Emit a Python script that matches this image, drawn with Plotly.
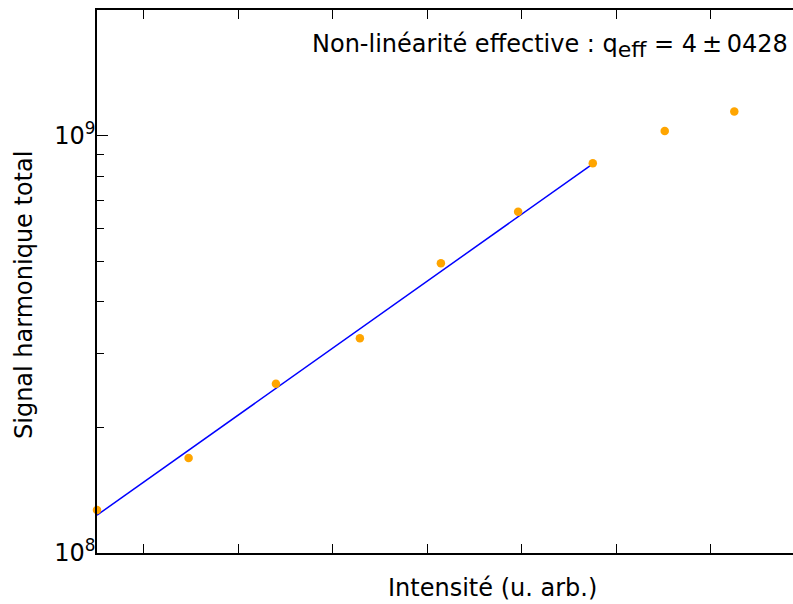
import plotly.graph_objects as go

# Measured harmonic signal versus intensity (arbitrary units)
intensity = [0.507, 1.476, 2.400, 3.288, 4.145, 4.962, 5.752, 6.513, 7.249]
signal = [1.267e8, 1.690e8, 2.544e8, 3.271e8, 4.943e8, 6.571e8, 8.586e8, 1.026e9, 1.143e9]

# Fitted power-law segment over the first seven points
fit_intensity = [0.507, 5.752]
fit_signal = [1.232e8, 8.56e8]

x_ticks = [1, 2, 3, 4, 5, 6, 7]
y_major = [1e8, 1e9]
y_major_text = ["10<sup>8</sup>", "10<sup>9</sup>"]
y_minor = [2e8, 3e8, 4e8, 5e8, 6e8, 7e8, 8e8, 9e8]

W, H = 793, 604
L, R, T, B = 97, 0, 10, 51
pw, ph = W - L - R, H - T - B


def px_to_paper(px, py):
    return (px - L) / pw, (H - B - py) / ph


FONT = "DejaVu Sans"
FS = 24

fig = go.Figure()
fig.add_trace(go.Scatter(
    x=fit_intensity, y=fit_signal, mode="lines",
    line=dict(color="#0000ff", width=1.5), cliponaxis=False, showlegend=False,
))
fig.add_trace(go.Scatter(
    x=intensity, y=signal, mode="markers",
    marker=dict(color="#ffa500", size=8.5), cliponaxis=False, showlegend=False,
))

fig.update_layout(
    width=W, height=H,
    margin=dict(l=L, r=R, t=T, b=B),
    paper_bgcolor="white", plot_bgcolor="white",
    font=dict(family=FONT, size=FS, color="black"),
    xaxis=dict(
        range=[0.507, 7.870], showgrid=False, zeroline=False,
        showline=True, linecolor="black", linewidth=1.5, mirror="ticks",
        ticks="inside", ticklen=9, tickwidth=1.3, tickcolor="black",
        tickvals=x_ticks, showticklabels=False,
    ),
    yaxis=dict(
        type="log", range=[8, 9.301], showgrid=False, zeroline=False,
        showline=True, linecolor="black", linewidth=1.5,
        ticks="inside", ticklen=11, tickwidth=1.3, tickcolor="black",
        tickvals=y_major, ticktext=y_major_text, ticklabelstandoff=-5,
        tickfont=dict(family=FONT, size=FS, color="black"),
        minor=dict(tickvals=y_minor, ticks="inside", ticklen=7,
                   tickwidth=1.2, tickcolor="black", showgrid=False),
    ),
    yaxis2=dict(
        type="log", range=[8, 9.301], overlaying="y", side="right",
        showgrid=False, zeroline=False, showline=False,
        ticks="inside", ticklen=10, tickwidth=1.3, tickcolor="black",
        tickvals=[1e9], showticklabels=False,
    ),
)

ax, ay = px_to_paper(492, 588)
fig.add_annotation(
    text="Intensité (u. arb.)", xref="paper", yref="paper", x=ax, y=ay,
    xanchor="center", yanchor="middle", showarrow=False,
    font=dict(family=FONT, size=FS, color="black"),
)
ax, ay = px_to_paper(24, 295)
fig.add_annotation(
    text="Signal harmonique total", xref="paper", yref="paper", x=ax, y=ay,
    xanchor="center", yanchor="middle", textangle=-90, showarrow=False,
    font=dict(family=FONT, size=FS, color="black"),
)
ax, ay = px_to_paper(790, 46)
fig.add_annotation(
    text=("Non-linéarité effective : q<sub><span style=\"font-size:22px\">eff</span></sub>"
          " = 4\u2009±\u20090428"),
    xref="paper", yref="paper", x=ax, y=ay,
    xanchor="right", yanchor="middle", showarrow=False,
    font=dict(family=FONT, size=FS, color="black"),
)

fig.write_html("out.html")
